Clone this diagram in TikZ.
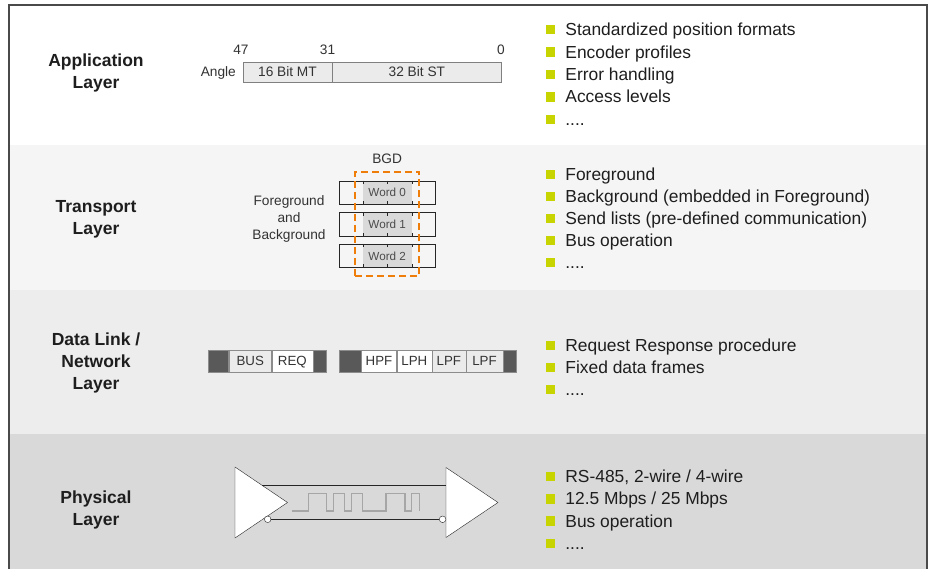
\documentclass[tikz,border=0pt]{standalone}
\usepackage{fontspec}
\setmainfont{Liberation Sans}
\usetikzlibrary{positioning}
\definecolor{bandT}{HTML}{F5F5F5}
\definecolor{bandD}{HTML}{EDEDED}
\definecolor{bandP}{HTML}{D9D9D9}
\definecolor{bulletgreen}{RGB}{200,212,0}
\definecolor{bgdorange}{HTML}{EF7D0A}
\definecolor{framegray}{HTML}{4A4A4A}
\definecolor{txtgray}{HTML}{1E1E1E}
\newcommand{\moredots}{....}
\begin{document}
\begin{tikzpicture}[x=1pt,y=-1pt,
    layername/.style={font=\fontsize{17.5}{22}\selectfont\bfseries,align=center,text=txtgray},
    bullet/.style={fill=bulletgreen,minimum size=9.4,inner sep=0pt},
    itemtext/.style={font=\fontsize{17.4}{20}\selectfont,inner sep=0pt,text height=12pt,text depth=0pt,text=txtgray},
    smalltext/.style={font=\fontsize{13.7}{17}\selectfont,inner sep=0pt,text=black!80},
    bitfield/.style={draw=black!50,fill=black!8,minimum height=20,inner sep=0pt,text height=9.8pt,text depth=0pt,font=\fontsize{13.7}{17}\selectfont,text=black!80},
    wordcell/.style={fill=black!15,minimum width=49,minimum height=23.5,inner sep=0pt,text height=8.3pt,text depth=0pt,font=\fontsize{11.7}{14}\selectfont,text=black!70},
    wordrow/.style={draw=black!85,minimum width=95.7,minimum height=23.5,inner sep=0pt},
    bgdbox/.style={draw=bgdorange,line width=2.2pt,dash pattern=on 7pt off 4pt,minimum width=64.3,minimum height=104.3,inner sep=0pt},
    framecell/.style={draw=black!45,minimum height=22.3,inner sep=0pt,text height=9.5pt,text depth=0pt,font=\fontsize{13.3}{16}\selectfont,text=black!80},
    darkcell/.style={framecell,fill=black!65},
    bubble/.style={circle,draw=black!85,fill=white,minimum size=6.6,inner sep=0pt},
    wave/.style={draw=black!35,line width=1.3pt}]
    \useasboundingbox (0,0) rectangle (930,569);
    \fill[white] (9,5) rectangle (927,145);
    \fill[bandT] (9,145) rectangle (927,290);
    \fill[bandD] (9,290) rectangle (927,434);
    \fill[bandP] (9,434) rectangle (927,569);
    \draw[framegray,line width=1.6pt] (9,569) -- (9,5) -- (927,5) -- (927,569);
    % application layer
    \node[layername] (appl) at (96,73) {Application\\Layer};
    \node[bitfield,minimum width=88.5,anchor=west] (mt) at (243,72) {16 Bit MT};
    \node[bitfield,minimum width=169.5,right=0pt of mt] (st) {32 Bit ST};
    \node[smalltext,text height=9.8pt,text depth=0pt,left=7pt of mt] (angle) {Angle};
    \node[smalltext] (bit47) at (241,50) {47};
    \node[smalltext] (bit31) at (327.5,50) {31};
    \node[smalltext] (bit0) at (501,50) {0};
    \foreach \t [count=\i] in {Standardized position formats,Encoder profiles,Error handling,Access levels,\moredots} {
        \node[bullet] (appb\i) at (550.3,{29.7+22.4*(\i-1)}) {};
        \node[itemtext,right=10pt of appb\i] (appt\i) {\t};
    }
    % transport layer
    \node[layername] (trl) at (96,219) {Transport\\Layer};
    \node[smalltext,align=center] (fgbg) at (289,219) {Foreground\\and\\Background};
    \foreach \i in {0,1,2} {
        \node[wordcell] (word\i) at (387.2,{192.5+31.7*\i}) {Word \i};
        \node[wordrow] (row\i) at (word\i) {};
        \foreach \x in {-24.5,0,24.5} \draw[black!85] ([xshift=\x]row\i.north) -- ++(0,3.5) ([xshift=\x]row\i.south) -- ++(0,-3.5);
    }
    \node[bgdbox] (bgd) at (387.2,224) {};
    \node[smalltext,above=7pt of bgd] (bgdlabel) {BGD};
    \foreach \t [count=\i] in {Foreground,Background (embedded in Foreground),Send lists (pre-defined communication),Bus operation,\moredots} {
        \node[bullet] (trb\i) at (550.3,{174.5+22*(\i-1)}) {};
        \node[itemtext,right=10pt of trb\i] (trt\i) {\t};
    }
    % data link layer
    \node[layername] (dll) at (96,363) {Data Link /\\Network\\Layer};
    \node[darkcell,minimum width=20.6,anchor=west] (fa0) at (207.7,361) {};
    \node[framecell,fill=black!8,minimum width=42.7,right=0pt of fa0] (bus) {BUS};
    \node[framecell,fill=white,minimum width=40.7,right=0pt of bus] (req) {REQ};
    \node[darkcell,minimum width=13.3,right=0pt of req] (fa1) {};
    \node[darkcell,minimum width=21.4,anchor=west] (fb0) at (339.3,361) {};
    \node[framecell,fill=white,minimum width=35.3,right=0pt of fb0] (hpf) {HPF};
    \node[framecell,fill=white,minimum width=34.7,right=0pt of hpf] (lph) {LPH};
    \node[framecell,fill=black!8,minimum width=33.6,right=0pt of lph] (lpfa) {LPF};
    \node[framecell,fill=black!8,minimum width=36.7,right=0pt of lpfa] (lpfb) {LPF};
    \node[darkcell,minimum width=13.3,right=0pt of lpfb] (fb1) {};
    \foreach \t [count=\i] in {Request Response procedure,Fixed data frames,\moredots} {
        \node[bullet] (dlb\i) at (550.3,{345.5+22*(\i-1)}) {};
        \node[itemtext,right=10pt of dlb\i] (dlt\i) {\t};
    }
    % physical layer
    \node[layername] (phl) at (96,510) {Physical\\Layer};
    \draw[black!85,fill=white] (235,467) coordinate (txa) -- (287.5,502.5) coordinate (txo) -- (235,538) coordinate (txb) -- cycle;
    \draw[black!85,fill=white] (446,467.5) coordinate (rxa) -- (498,502.5) coordinate (rxo) -- (446,537.5) coordinate (rxb) -- cycle;
    \coordinate (ltop) at (261.6,485);
    \coordinate (rtop) at (446,485);
    \draw[black!85] (ltop) -- (rtop);
    \node[bubble] (lbub) at (267.7,519.3) {};
    \node[bubble] (rbub) at (442.6,519.3) {};
    \draw[black!85] (lbub) -- (rbub);
    \draw[wave] (291.7,511) \foreach \a/\b in {308.3/326.7,333.3/344.3,351.7/362.3,386/405,411.7/419.3} { -| (\a,493.3) -| (\b,511) };
    \foreach \t [count=\i] in {{RS-485, 2-wire / 4-wire},12.5 Mbps / 25 Mbps,Bus operation,\moredots} {
        \node[bullet] (phb\i) at (550.3,{476.5+22.3*(\i-1)}) {};
        \node[itemtext,right=10pt of phb\i] (pht\i) {\t};
    }
\end{tikzpicture}
\end{document}
